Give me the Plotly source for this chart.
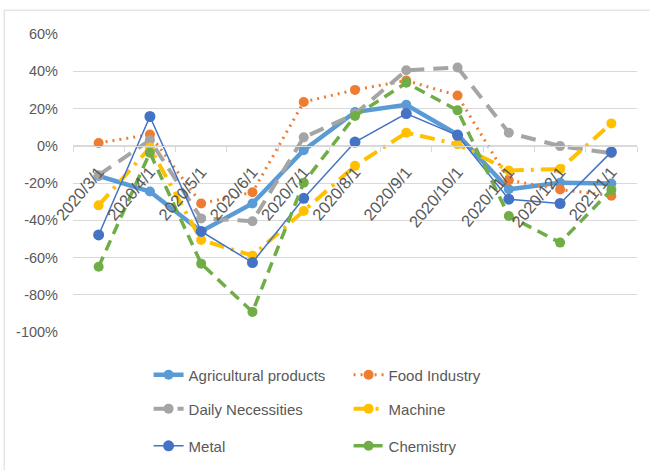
import plotly.graph_objects as go

categories = ["2020/3/1", "2020/4/1", "2020/5/1", "2020/6/1", "2020/7/1", "2020/8/1",
              "2020/9/1", "2020/10/1", "2020/11/1", "2020/12/1", "2021/1/1"]

agricultural = [-16.2, -24.6, -46.0, -31.0, -2.4, 18.1, 22.0, 6.0, -23.4, -19.8, -20.3]
food = [1.5, 6.0, -31.0, -25.0, 23.5, 30.0, 35.0, 27.0, -18.5, -23.5, -26.8]
daily = [-15.8, 3.0, -39.0, -40.5, 4.5, 17.0, 40.5, 42.0, 7.0, -0.2, -4.0]
machine = [-32.0, -1.0, -50.6, -59.0, -35.0, -10.8, 7.0, 0.8, -13.3, -12.5, 12.0]
metal = [-47.9, 15.7, -46.0, -62.7, -28.2, 2.0, 17.3, 5.6, -28.7, -31.0, -3.3]
chemistry = [-65.0, -3.7, -63.3, -89.2, -19.8, 16.0, 33.8, 19.0, -37.7, -52.0, -23.7]

y_ticks = [60, 40, 20, 0, -20, -40, -60, -80, -100]
y_tick_labels = ["60%", "40%", "20%", "0%", "-20%", "-40%", "-60%", "-80%", "-100%"]

series = [
    ("Agricultural products", agricultural, "#5B9BD5", 4.5, "solid", 10, "legend"),
    ("Food Industry", food, "#ED7D31", 3, "2px,5px", 10, "legend"),
    ("Daily Necessities", daily, "#A5A5A5", 4, "15px,9px", 10, "legend2"),
    ("Machine", machine, "#FFC000", 4, "15px,7px,3px,7px", 10, "legend2"),
    ("Metal", metal, "#4472C4", 1.5, "solid", 11, "legend3"),
    ("Chemistry", chemistry, "#70AD47", 3.5, "11px,7px", 10, "legend3"),
]

fig = go.Figure()
for name, vals, color, w, dash, ms, lg in series:
    fig.add_trace(go.Scatter(
        x=categories, y=vals, name=name, mode="lines+markers",
        line=dict(color=color, width=w, dash=dash),
        marker=dict(color=color, size=ms, symbol="circle"),
        legend=lg,
    ))

font_family = "Liberation Sans, Arial, sans-serif"
leg_common = dict(orientation="h", x=0.134, xanchor="left", yanchor="middle",
                  yref="container",
                  entrywidth=155, entrywidthmode="pixels",
                  font=dict(family=font_family, size=15, color="#595959"),
                  bgcolor="rgba(0,0,0,0)")

fig.update_layout(
    width=650, height=470,
    margin=dict(l=73, r=13, t=34, b=138, autoexpand=False),
    paper_bgcolor="white", plot_bgcolor="white",
    font=dict(family=font_family, size=14, color="#595959"),
    showlegend=True,
    legend=dict(y=0.202, **leg_common),
    legend2=dict(y=0.130, **leg_common),
    legend3=dict(y=0.051, **leg_common),
    xaxis=dict(
        type="category", anchor="free", position=0.625,
        showgrid=False, showline=True, linecolor="#D9D9D9", linewidth=1,
        ticks="outside", ticklen=5, tickcolor="#D9D9D9", tickson="boundaries",
        tickangle=-50, tickfont=dict(size=16.5, color="#595959"),
        ticklabelstandoff=9,
        range=[-0.5, 10.5], zeroline=False,
    ),
    yaxis=dict(
        range=[-100, 60], tickvals=y_ticks, ticktext=y_tick_labels,
        showgrid=True, gridcolor="#D9D9D9", gridwidth=1,
        zeroline=False, showline=False, ticks="",
        ticklabelstandoff=14, tickfont=dict(size=14.5, color="#595959"),
    ),
    shapes=[dict(type="rect", xref="paper", yref="paper",
                 x0=-0.122, x1=1.05, y0=-0.5, y1=1.08,
                 line=dict(color="#D9D9D9", width=1), fillcolor="rgba(0,0,0,0)",
                 layer="below")],
)

fig.write_html("out.html")
